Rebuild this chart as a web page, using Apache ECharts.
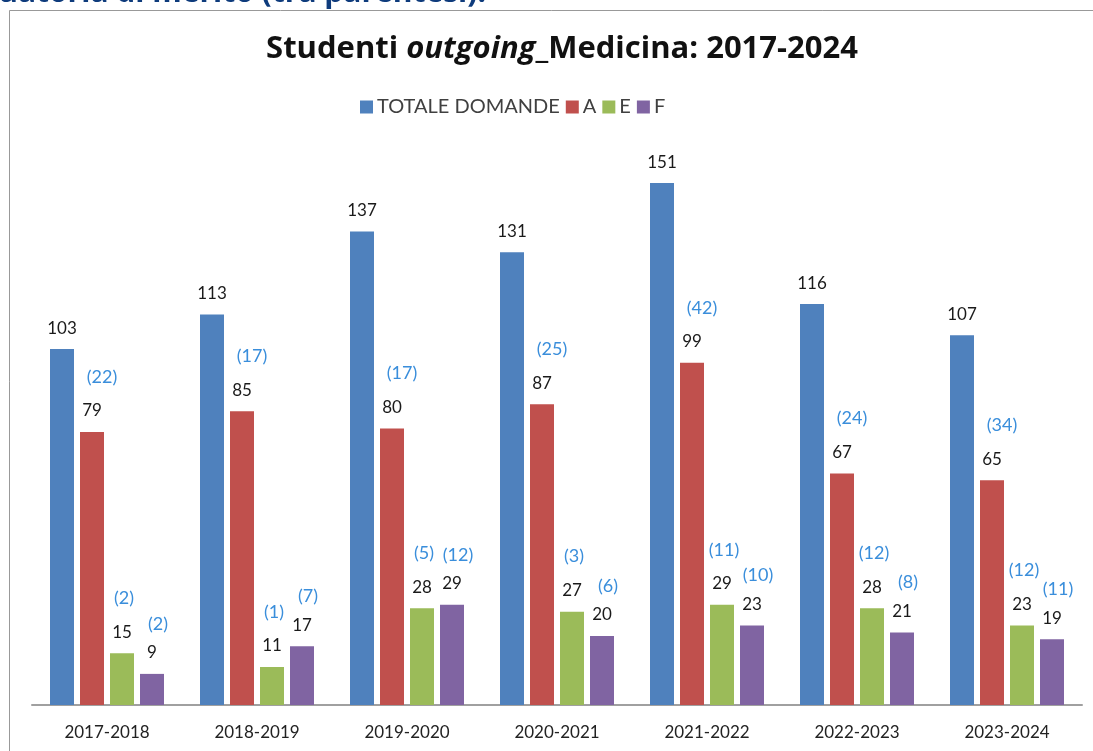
<!DOCTYPE html>
<html lang="it">
<head>
<meta charset="UTF-8">
<title>Studenti outgoing Medicina</title>
<script src="https://cdn.jsdelivr.net/npm/echarts@6/dist/echarts.min.js"></script>
<style>
  html, body { margin: 0; padding: 0; background: #fff; }
  #main { width: 1093px; height: 751px; }
</style>
</head>
<body>
<div id="main"></div>
<script>
// anni accademici
var anni = ['2017-2018', '2018-2019', '2019-2020', '2020-2021', '2021-2022', '2022-2023', '2023-2024'];
// valori delle serie
var totale = [103, 113, 137, 131, 151, 116, 107];
var serieA = [79, 85, 80, 87, 99, 67, 65];
var serieE = [15, 11, 28, 27, 29, 28, 23];
var serieF = [9, 17, 29, 20, 23, 21, 19];
// valori tra parentesi
var parA = [22, 17, 17, 25, 42, 24, 34];
var parE = [2, 1, 5, 3, 11, 12, 12];
var parF = [2, 7, 12, 6, 10, 8, 11];

var FONT = 'Lato, "Open Sans", sans-serif';
var BLU = '#3a8edb';

function etichetta(par, shift, lh) {
    return {
        show: true,
        position: 'top',
        distance: 11,
        formatter: function (p) {
            return '{p|(' + par[p.dataIndex] + ')}\n{v|' + p.value + '}';
        },
        rich: {
            p: { color: BLU, fontSize: 18, fontFamily: FONT, lineHeight: lh, padding: [0, 0, 0, shift] },
            v: { color: '#1a1a1a', fontSize: 17, fontFamily: FONT, lineHeight: 20 }
        }
    };
}

var myChart = echarts.init(document.getElementById('main'));
myChart.setOption({
    animation: false,
    backgroundColor: '#fff',
    title: {
        text: '{a|Studenti }{i|outgoing}{a|_Medicina: 2017-2024}',
        left: 557,
        textAlign: 'center',
        top: 29,
        textStyle: {
            rich: {
                a: { fontSize: 31, fontWeight: 'bold', color: '#111', fontFamily: '"Open Sans", sans-serif' },
                i: { fontSize: 31, fontWeight: 'bold', fontStyle: 'italic', color: '#111', fontFamily: '"Open Sans", sans-serif' }
            }
        }
    },
    legend: {
        data: ['TOTALE DOMANDE', 'A', 'E', 'F'],
        left: 355,
        top: 92,
        itemWidth: 13,
        itemHeight: 13,
        itemGap: 6,
        icon: 'rect',
        textStyle: { fontSize: 20, color: '#404040', fontFamily: FONT, padding: [0, 0, 0, -1] }
    },
    grid: { left: 32, right: 11, top: 152, bottom: 46 },
    xAxis: {
        type: 'category',
        data: anni,
        axisLine: { lineStyle: { color: '#a0a0a0', width: 2 } },
        axisTick: { show: false },
        axisLabel: { color: '#222', fontSize: 17, fontFamily: FONT, margin: 19 }
    },
    yAxis: {
        type: 'value',
        min: 0,
        max: 160,
        show: false,
        splitLine: { show: false }
    },
    color: ['#4f81bd', '#c0504d', '#9bbb59', '#8064a2'],
    series: [{
        name: 'TOTALE DOMANDE',
        type: 'bar',
        barWidth: 24,
        barGap: '25%',
        data: totale,
        label: {
            show: true, position: 'top', distance: 12,
            color: '#1a1a1a', fontSize: 17, fontFamily: FONT
        }
    }, {
        name: 'A',
        type: 'bar',
        barWidth: 24,
        barGap: '25%',
        data: serieA,
        label: etichetta(parA, 20, 48)
    }, {
        name: 'E',
        type: 'bar',
        barWidth: 24,
        barGap: '25%',
        data: serieE,
        label: etichetta(parE, 4, 48)
    }, {
        name: 'F',
        type: 'bar',
        barWidth: 24,
        barGap: '25%',
        data: serieF,
        label: etichetta(parF, 12, 38)
    }],
    graphic: [{
        type: 'rect',
        shape: { x: 9.5, y: 10.5, width: 1200, height: 800 },
        style: { fill: 'none', stroke: '#999', lineWidth: 1 },
        z: -1
    }, {
        type: 'text',
        x: 486,
        y: -7,
        style: {
            text: 'graduatoria di merito (tra parentesi).',
            align: 'right',
            verticalAlign: 'middle',
            fill: '#0e3b7c',
            font: 'bold 30px "Open Sans", sans-serif'
        }
    }]
});
</script>
</body>
</html>
